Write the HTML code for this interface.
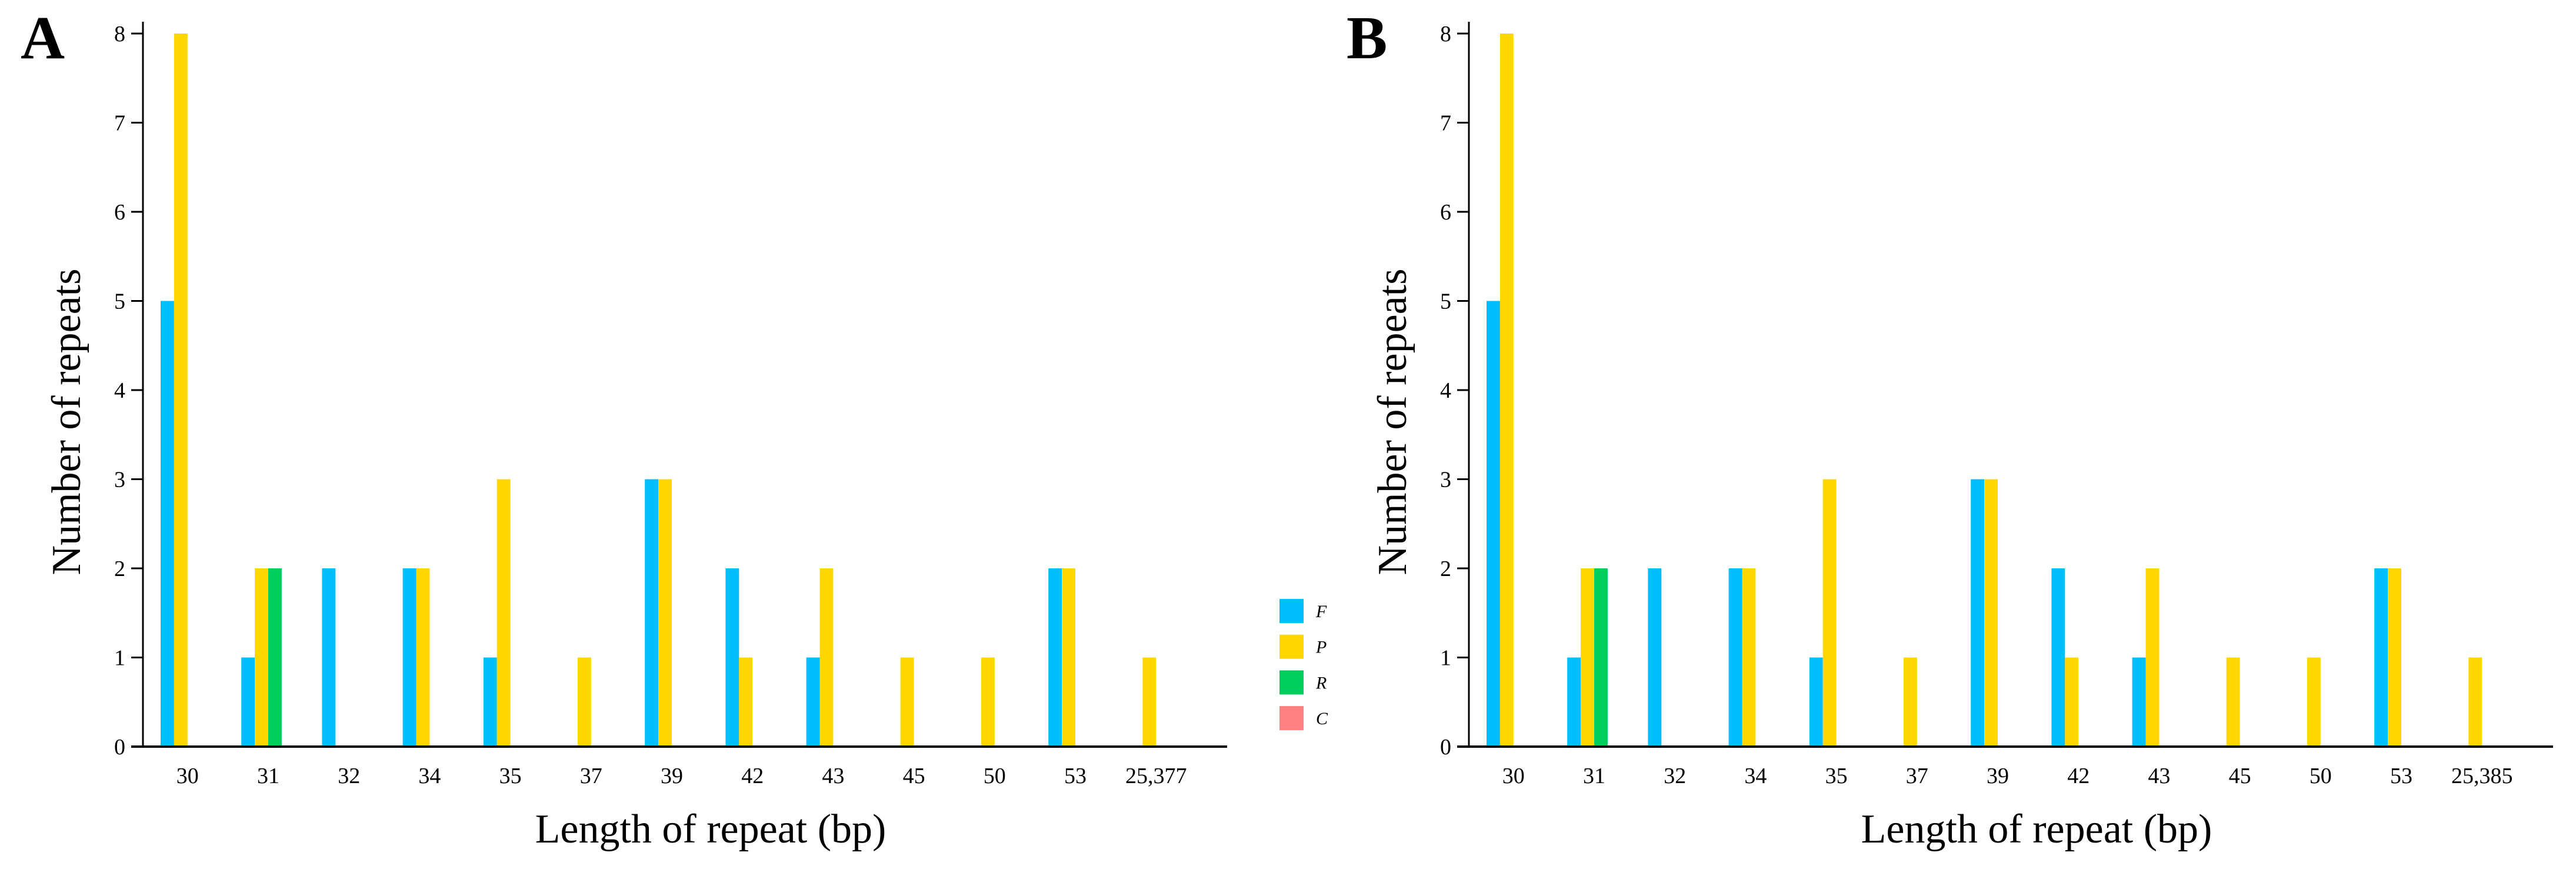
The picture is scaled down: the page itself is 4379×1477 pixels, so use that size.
<!DOCTYPE html>
<html><head><meta charset="utf-8">
<style>
html,body{margin:0;padding:0;background:#fff;}
svg{display:block;font-family:"Liberation Serif","Times New Roman",serif;}
</style></head>
<body>
<svg id="chart" width="4379" height="1477" viewBox="0 0 4379 1477" xmlns="http://www.w3.org/2000/svg"></svg>
<script>
const categoriesA = ["30","31","32","34","35","37","39","42","43","45","50","53","25,377"];
const categoriesB = ["30","31","32","34","35","37","39","42","43","45","50","53","25,385"];
const seriesNames = ["F","P","R","C"];
const seriesColors = ["#00BFFF","#FFD700","#00CD5C","#FF8080"];
const valuesF_A = [5,1,2,2,1,0,3,2,1,0,0,2,0];
const valuesP_A = [8,2,0,2,3,1,3,1,2,1,1,2,1];
const valuesR_A = [0,2,0,0,0,0,0,0,0,0,0,0,0];
const valuesC_A = [0,0,0,0,0,0,0,0,0,0,0,0,0];
const valuesF_B = [5,1,2,2,1,0,3,2,1,0,0,2,0];
const valuesP_B = [8,2,0,2,3,1,3,1,2,1,1,2,1];
const valuesR_B = [0,2,0,0,0,0,0,0,0,0,0,0,0];
const valuesC_B = [0,0,0,0,0,0,0,0,0,0,0,0,0];
const yTicks = [0,1,2,3,4,5,6,7,8];

const NS="http://www.w3.org/2000/svg";
const svg=document.getElementById('chart');
function mk(tag,attrs,parent,text){
  const e=document.createElementNS(NS,tag);
  for(const k in attrs)e.setAttribute(k,attrs[k]);
  if(text!==undefined)e.textContent=text;
  (parent||svg).appendChild(e);return e;
}

function panel(off,letter,cats,series,drawLegend){
  const g=mk('g',{});
  
  
  const axisX=243+off, base=1269, unit=151.5;
  const y=v=>base-v*unit;
  const groupStart=i=>273+off+137.2*i;
  const bw=22.9;
  // bars
  series.forEach((vals,s)=>{
    vals.forEach((v,i)=>{
      if(v<=0)return;
      const r=mk('rect',{x:groupStart(i)+s*bw,y:y(v),width:bw,height:v*unit,fill:seriesColors[s]},g);
      
      
    });
  });
  // y axis
  const ya=mk('line',{x1:axisX,y1:37,x2:axisX,y2:base,stroke:'#000','stroke-width':3},g);
  
  
  yTicks.forEach(t=>{
    const tl=mk('line',{x1:axisX-20,y1:y(t),x2:axisX,y2:y(t),stroke:'#000','stroke-width':3},g);
    
    
    const tx=mk('text',{x:axisX-30,y:y(t)+13,'font-size':38,'text-anchor':'end'},g,String(t));
    
    
  });
  // x axis
  const xa=mk('line',{x1:223+off,y1:base,x2:2086+off,y2:base,stroke:'#000','stroke-width':4},g);
  
  
  cats.forEach((c,i)=>{
    const tx=mk('text',{x:groupStart(i)+2*bw,y:1331,'font-size':38,'text-anchor':'middle'},g,c);
    
    
  });
  const xt=mk('text',{x:1208+off,y:1432,'font-size':70,'text-anchor':'middle'},g,'Length of repeat (bp)');
  
  
  const yt=mk('text',{x:0,y:0,'font-size':70,'text-anchor':'middle',transform:'translate('+(136+off)+',717) rotate(-90)'},g,'Number of repeats');
  
  
  const pl=mk('text',{x:35+off,y:99,'font-size':104,'font-weight':'bold'},g,letter);
  
  
  if(drawLegend){
    const lg=mk('g',{},g);
    
    
    seriesNames.forEach((n,s)=>{
      const yy=1018+s*60.7;
      const sq=mk('rect',{x:2175,y:yy,width:41,height:41,fill:seriesColors[s]},lg);
      
      
      const lt=mk('text',{x:2237,y:yy+31,'font-size':30,'font-style':'italic'},lg,n);
      
      
    });
  }
}
panel(0,'A',categoriesA,[valuesF_A,valuesP_A,valuesR_A,valuesC_A],true);
panel(2254,'B',categoriesB,[valuesF_B,valuesP_B,valuesR_B,valuesC_B],false);
</script>
</body></html>
